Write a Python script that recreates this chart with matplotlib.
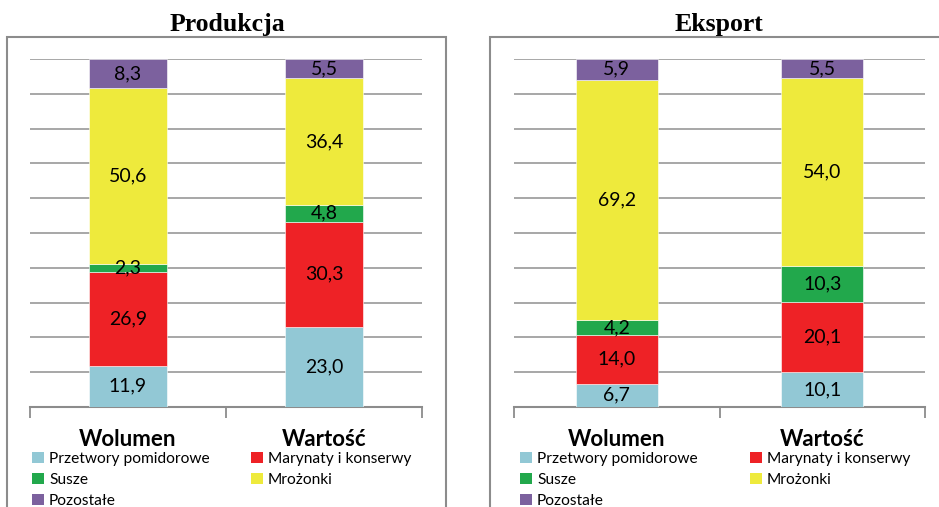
import matplotlib
matplotlib.use("Agg")
import matplotlib.pyplot as plt
from matplotlib.patches import Rectangle, Patch
import numpy as np

categories = ["Wolumen", "Wartość"]
series_names = ["Przetwory pomidorowe", "Marynaty i konserwy", "Susze", "Mrożonki", "Pozostałe"]
colors = ["#92C8D5", "#EE2226", "#22A84C", "#EEEA3C", "#7C619E"]

produkcja = {
    "Przetwory pomidorowe": [11.9, 23.0],
    "Marynaty i konserwy": [26.9, 30.3],
    "Susze": [2.3, 4.8],
    "Mrożonki": [50.6, 36.4],
    "Pozostałe": [8.3, 5.5],
}
eksport = {
    "Przetwory pomidorowe": [6.7, 10.1],
    "Marynaty i konserwy": [14.0, 20.1],
    "Susze": [4.2, 10.3],
    "Mrożonki": [69.2, 54.0],
    "Pozostałe": [5.9, 5.5],
}

W, H = 939, 507
fig = plt.figure(figsize=(W / 100, H / 100), dpi=100)
FONT = "Lato"

def fx(px):
    return px / W

def fy(py):
    return 1 - py / H

def draw_panel(data, title, ax_px, box_px, title_x, leg_cols):
    x0, x1, ytop, ybot = ax_px
    ax = fig.add_axes([fx(x0), fy(ybot), fx(x1 - x0), (ybot - ytop) / H])
    bx0, bx1, by0 = box_px
    fig.patches.append(Rectangle((fx(bx0), -0.1), fx(bx1 - bx0), fy(by0) + 0.1,
                                 transform=fig.transFigure, fill=False,
                                 edgecolor="#8C8C8C", linewidth=1.5, zorder=0))
    x = np.arange(len(categories))
    bottom = np.zeros(len(categories))
    handles = []
    for name, col in zip(series_names, colors):
        vals = np.array(data[name])
        ax.bar(x, vals, width=0.4, bottom=bottom, color=col, edgecolor="white",
               linewidth=0.4, zorder=3)
        for xi, v, b in zip(x, vals, bottom):
            ax.text(xi, b + v / 2, f"{v:.1f}".replace(".", ","), ha="center", va="center",
                    fontsize=14, family=FONT, color="black", zorder=4)
        bottom += vals
        handles.append(Patch(facecolor=col, edgecolor="none", label=name))
    ax.set_xlim(-0.5, 1.5)
    ax.set_ylim(0, 100)
    for yv in range(10, 101, 10):
        ax.axhline(yv, color="#A0A0A0", linewidth=1.3, zorder=1)
    for s in ["top", "left", "right"]:
        ax.spines[s].set_visible(False)
    ax.spines["bottom"].set_color("#8C8C8C")
    ax.spines["bottom"].set_linewidth(1.5)
    ax.set_yticks([])
    ax.set_xticks([-0.5, 0.5, 1.5])
    ax.set_xticklabels([])
    ax.tick_params(axis="x", direction="out", length=8, width=1.3, color="#8C8C8C")
    for xi, c in zip(x, categories):
        ax.text(xi, -0.092, c, transform=ax.get_xaxis_transform(), ha="center", va="center",
                fontsize=16, fontweight="bold", family=FONT)
    fig.text(fx(title_x), fy(31), title, ha="center", va="baseline", fontsize=18.5,
             fontweight="bold", family="Liberation Serif")
    groups = [[0, 2, 4], [1, 3]]
    for grp, lx in zip(groups, leg_cols):
        fig.legend([handles[i] for i in grp], [series_names[i] for i in grp],
                   loc="upper left", bbox_to_anchor=(fx(lx), fy(452)),
                   ncol=1, frameon=False, prop={"family": FONT, "size": 11.2},
                   handlelength=0.75, handleheight=0.75, handletextpad=0.35,
                   labelspacing=0.44, borderpad=0, borderaxespad=0)
    return ax

draw_panel(produkcja, "Produkcja", (30, 422, 59, 407), (7, 446, 37), 227, (32, 251))
draw_panel(eksport, "Eksport", (514, 925, 59, 407), (490, 960, 37), 719, (520, 750))

fig.savefig("out.png", dpi=100)
